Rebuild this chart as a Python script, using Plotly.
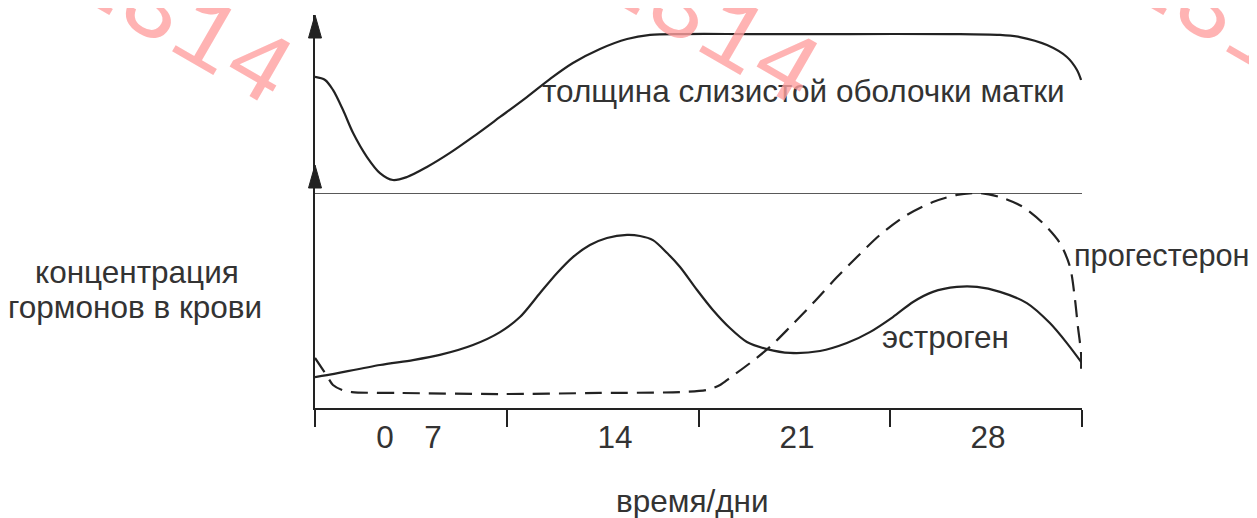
import plotly.graph_objects as go

# ---- data (x in cycle units 0..32 along the time axis) ----
thick_x = [0.0, 0.42, 0.75, 1.17, 1.59, 2.17, 2.71, 3.25, 3.84, 4.67, 5.63, 6.59, 7.72, 8.84,
           9.80, 10.76, 11.89, 13.02, 13.98, 15.35, 18.15, 22.32, 26.49, 28.58, 29.41, 30.54,
           31.37, 31.79, 31.96]
thick_y = [65.2, 63.5, 57.9, 46.6, 33.7, 20.2, 11.2, 7.3, 9.0, 14.6, 22.5, 31.5, 42.7, 53.9,
           64.0, 73.0, 80.9, 86.5, 88.8, 89.3, 89.3, 89.3, 89.3, 88.8, 87.6, 83.1,
           76.4, 69.1, 63.5]

estr_x = [0.0, 0.5, 2.71, 4.09, 5.21, 6.59, 7.72, 8.55, 9.39, 10.10, 10.76, 11.47, 12.18, 13.02,
          13.56, 14.10, 14.69, 15.23, 15.94, 16.60, 17.31, 18.02, 18.86, 19.82, 21.07, 22.19,
          23.15, 24.11, 24.95, 25.78, 26.78, 27.62, 28.58, 29.70, 30.66, 31.37, 32.0]
estr_y = [14.4, 15.3, 20.0, 22.3, 24.7, 29.3, 35.3, 42.3, 53.5, 62.8, 70.2, 75.8, 79.1, 80.5,
          80.0, 78.1, 72.1, 65.6, 54.9, 45.6, 37.2, 30.7, 27.4, 25.6, 26.5, 30.2,
          35.3, 42.3, 49.3, 54.0, 56.3, 56.3, 54.0, 48.8, 39.5, 30.2, 20.9]

prog_x = [0.0, 0.5, 0.75, 1.13, 1.54, 3.55, 7.72, 11.89, 15.23, 16.35, 16.9, 17.31, 18.15, 18.98,
          19.82, 20.78, 21.78, 22.61, 23.57, 24.70, 25.78, 26.78, 27.74, 28.58, 29.54, 30.37,
          31.08, 31.50, 31.71, 31.83, 31.96, 31.96]
prog_y = [23.3, 14.9, 10.7, 8.4, 7.4, 7.0, 6.5, 7.0, 7.4, 8.4, 10.7, 14.0, 20.9, 28.4,
          37.7, 48.8, 60.9, 70.2, 80.5, 89.8, 95.8, 99.1, 100.0, 98.1, 93.5, 86.0,
          76.7, 65.6, 50.2, 37.7, 25.6, 16.7]

tick_marks = [0, 8, 16, 24, 32]
tick_pos = [2.92, 4.92, 12.52, 20.11, 28.08]
tick_labels = ["0", "7", "14", "21", "28"]

LINE = "#222222"
TXT = "#333333"
FONT = "Liberation Sans, Arial, sans-serif"
FS = 31.5

OFF = 8  # default page body margin
W, H = 1257 - OFF, 518 - OFF
# plot area in page pixels: x 315..1082, y 15..408
PL, PR, PT, PB = 315, 1082, 15, 408
ML, MT = PL - OFF, PT - OFF
MR, MB = W - (PR - OFF), H - (PB - OFF)
PW, PH = PR - PL, PB - PT
split = (PB - 193) / PH


def px(xp):
    return (xp - PL) / PW


def py(yp):
    return (PB - yp) / PH


fig = go.Figure()
fig.add_trace(go.Scatter(x=thick_x, y=thick_y, xaxis="x", yaxis="y2", mode="lines",
                         line=dict(color=LINE, width=2.2, shape="spline", smoothing=0.9),
                         cliponaxis=False, hoverinfo="skip"))
fig.add_trace(go.Scatter(x=estr_x, y=estr_y, xaxis="x", yaxis="y", mode="lines",
                         line=dict(color=LINE, width=2.2, shape="spline", smoothing=0.8),
                         cliponaxis=False, hoverinfo="skip"))
fig.add_trace(go.Scatter(x=prog_x, y=prog_y, xaxis="x", yaxis="y", mode="lines",
                         line=dict(color=LINE, width=2.2, shape="spline", smoothing=0.8,
                                   dash="17px,9px"),
                         cliponaxis=False, hoverinfo="skip"))
# invisible trace so the label axis renders
fig.add_trace(go.Scatter(x=[0], y=[0], xaxis="x2", yaxis="y", mode="markers",
                         marker=dict(opacity=0), hoverinfo="skip"))

ax_common = dict(showgrid=False, zeroline=False, fixedrange=True)
fig.update_layout(
    width=W, height=H,
    margin=dict(l=ML, r=MR, t=MT, b=MB, pad=0),
    paper_bgcolor="white", plot_bgcolor="white",
    showlegend=False,
    xaxis=dict(domain=[0, 1], range=[0, 32], anchor="y", showline=True, linecolor=LINE,
               linewidth=2, ticks="outside", tickvals=tick_marks, ticklen=17, tickwidth=2,
               tickcolor=LINE, showticklabels=False, **ax_common),
    xaxis2=dict(overlaying="x", anchor="y", side="bottom", range=[0, 32], showline=False,
                tickvals=tick_pos, ticktext=tick_labels, ticks="outside", ticklen=1,
                tickcolor="rgba(0,0,0,0)", tickfont=dict(family=FONT, size=FS, color=TXT),
                **ax_common),
    yaxis=dict(domain=[0, split], range=[0, 100], anchor="x", showline=True, linecolor=LINE,
               linewidth=2, showticklabels=False, ticks="", **ax_common),
    yaxis2=dict(domain=[split, 1], range=[0, 100], anchor="x", showline=True, linecolor=LINE,
                linewidth=2, showticklabels=False, ticks="", **ax_common),
)

# panel divider line
fig.add_shape(type="line", xref="x", yref="y", x0=0, x1=32, y0=100, y1=100,
              line=dict(color=LINE, width=1.6))
# arrowheads on the vertical axis
for tip in [1.0, py(165)]:
    fig.add_shape(type="path", xref="paper", yref="paper", xsizemode="pixel", ysizemode="pixel",
                  xanchor=0, yanchor=tip, path="M0,0 L-6.5,-23 L6.5,-23 Z",
                  fillcolor=LINE, line=dict(color=LINE, width=1))

labels = [
    ("толщина слизистой оболочки матки", 803, 91),
    ("концентрация", 137, 272),
    ("гормонов в крови", 135, 307),
    ("прогестерон", 1162, 255),
    ("эстроген", 945, 337),
    ("время/дни", 692, 501),
]
for text, xp, yp in labels:
    fig.add_annotation(text=text, xref="paper", yref="paper", x=px(xp), y=py(yp),
                       xanchor="center", yanchor="middle", showarrow=False,
                       font=dict(family=FONT, size=(FS - 0.8 if text == "прогестерон" else FS),
                                 color=TXT))

# watermark
for xp in [179, 706, 1233]:
    fig.add_annotation(text="1314", xref="paper", yref="paper", x=px(xp), y=py(24),
                       xanchor="center", yanchor="middle", showarrow=False, textangle=30,
                       font=dict(family="Liberation Mono, monospace", size=100,
                                 color="rgba(255,160,160,0.8)"))

fig.write_html("out.html")
